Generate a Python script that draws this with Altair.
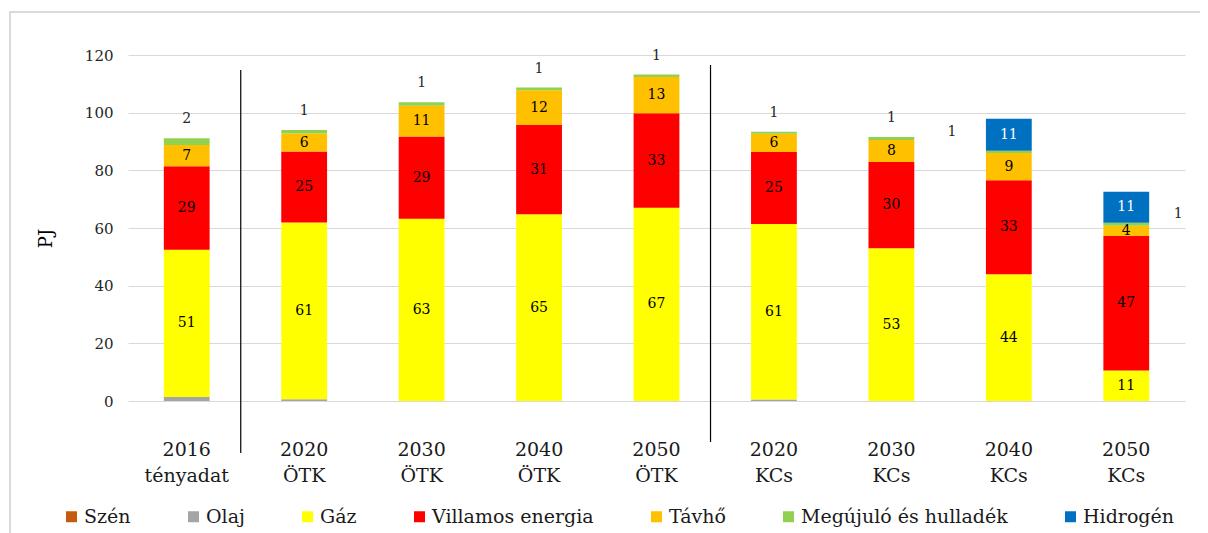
import altair as alt
import pandas as pd

categories = ["2016 tényadat", "2020 ÖTK", "2030 ÖTK", "2040 ÖTK", "2050 ÖTK",
              "2020 KCs", "2030 KCs", "2040 KCs", "2050 KCs"]
series = ["Szén", "Olaj", "Gáz", "Villamos energia", "Távhő",
          "Megújuló és hulladék", "Hidrogén"]
colors = ["#C55A11", "#A5A5A5", "#FFFF00", "#FF0000", "#FFC000", "#92D050", "#0070C0"]

szen = [0, 0, 0, 0, 0, 0, 0, 0, 0]
olaj = [1.4, 0.6, 0, 0, 0, 0.5, 0, 0, 0]
gaz = [51.1, 61.3, 63.2, 64.8, 67.0, 60.9, 53.0, 44.0, 10.6]
villamos = [28.9, 24.6, 28.5, 30.9, 32.8, 25.0, 29.9, 32.6, 46.6]
tavho = [7.4, 6.3, 10.7, 12.1, 12.6, 6.3, 7.6, 9.4, 3.6]
megujulo = [2.3, 1.2, 1.2, 0.9, 0.8, 0.7, 1.1, 0.8, 1.0]
hidrogen = [0, 0, 0, 0, 0, 0, 0, 11.1, 10.8]

values_by_series = [szen, olaj, gaz, villamos, tavho, megujulo, hidrogen]
rows = []
for si, (s, vals) in enumerate(zip(series, values_by_series)):
    for c, v in zip(categories, vals):
        rows.append({"category": c, "series": s, "order": si, "value": v})
df = pd.DataFrame(rows)

FONT = "DejaVu Serif"

xenc = alt.X(
    "category:N", sort=categories, title=None,
    scale=alt.Scale(paddingInner=0, paddingOuter=0),
    axis=alt.Axis(labelExpr="split(datum.label, ' ')", labelFont=FONT, labelFontSize=19,
                  labelLineHeight=26, labelPadding=39, labelAngle=0, labelBaseline="top",
                  labelColor="#1a1a1a", ticks=False, domain=False, grid=False),
)
yscale = alt.Scale(domain=[0, 120], nice=False, zero=True)


def yenc(field):
    return alt.Y(field, scale=yscale, title="PJ")


base = alt.Chart(df).transform_stack(
    stack="value", groupby=["category"],
    sort=[alt.SortField("order", order="ascending")], as_=["y0", "y1"]
).transform_calculate(mid="(datum.y0 + datum.y1) / 2")

bars = base.mark_bar(width={"band": 0.39}).encode(
    x=xenc,
    y=alt.Y("y0:Q", scale=yscale, title="PJ",
            axis=alt.Axis(values=[0, 20, 40, 60, 80, 100, 120], labelFont=FONT,
                          labelFontSize=15, labelColor="#262626", labelPadding=15,
                          grid=True, gridColor="#d9d9d9", gridWidth=1,
                          domain=False, ticks=False,
                          titleFont=FONT, titleFontSize=18, titleFontWeight="normal",
                          titleColor="#000000", titleX=-82, titleY=183,
                          titleAlign="center", titleBaseline="middle")),
    y2="y1:Q",
    color=alt.Color("series:N", sort=series,
                    scale=alt.Scale(domain=series, range=colors),
                    legend=alt.Legend(title=None, orient="none", direction="horizontal",
                                      legendX=-66, legendY=452, symbolType="square",
                                      symbolSize=121, symbolStrokeWidth=0,
                                      labelFont=FONT, labelFontSize=19, labelLimit=400,
                                      labelColor="#1a1a1a", labelOffset=3,
                                      columnPadding=53, padding=0)),
    order=alt.Order("order:Q"),
)

text_center = base.transform_filter(
    alt.FieldOneOfPredicate(field="series", oneOf=["Gáz", "Villamos energia", "Távhő"])
).mark_text(font=FONT, fontSize=14, color="#000000", baseline="middle").encode(
    x=xenc, y=yenc("mid:Q"),
    text=alt.Text("value:Q", format=".0f"),
)

text_h = base.transform_filter(
    "datum.series == 'Hidrogén' && datum.value > 0"
).mark_text(font=FONT, fontSize=14, color="#ffffff", baseline="middle").encode(
    x=xenc, y=yenc("mid:Q"),
    text=alt.Text("value:Q", format=".0f"),
)

meg = base.transform_filter("datum.series == 'Megújuló és hulladék'")
text_m = meg.transform_filter(
    "datum.category != '2040 KCs' && datum.category != '2050 KCs'"
).mark_text(font=FONT, fontSize=14, color="#262626", baseline="middle", dy=-19).encode(
    x=xenc, y=yenc("y1:Q"),
    text=alt.Text("value:Q", format=".0f"),
)
text_m2 = meg.transform_filter("datum.category == '2040 KCs'").mark_text(
    font=FONT, fontSize=14, color="#262626", baseline="middle", dy=-19, dx=-57
).encode(x=xenc, y=yenc("y1:Q"), text=alt.Text("value:Q", format=".0f"))
text_m3 = meg.transform_filter("datum.category == '2050 KCs'").mark_text(
    font=FONT, fontSize=14, color="#262626", baseline="middle", dy=-9, dx=52
).encode(x=xenc, y=yenc("y1:Q"), text=alt.Text("value:Q", format=".0f"))

sep_df = pd.DataFrame({"category": ["2016 tényadat", "2050 ÖTK"]})
rule1 = alt.Chart(sep_df).transform_filter("datum.category == '2016 tényadat'").mark_rule(
    color="#000000", strokeWidth=1.2
).encode(x=alt.X("category:N", sort=categories, bandPosition=0.96),
         y=alt.value(15), y2=alt.value(398))
rule2 = alt.Chart(sep_df).transform_filter("datum.category == '2050 ÖTK'").mark_rule(
    color="#000000", strokeWidth=1.2
).encode(x=alt.X("category:N", sort=categories, bandPosition=0.96),
         y=alt.value(10), y2=alt.value(387))

border = alt.Chart(pd.DataFrame({"a": [0]})).mark_rect(
    fillOpacity=0, stroke="#d9d9d9", strokeWidth=2
).encode(x=alt.value(-118), x2=alt.value(1100), y=alt.value(-43), y2=alt.value(560))

chart = alt.layer(
    border, bars, rule1, rule2, text_center, text_h, text_m, text_m2, text_m3
).properties(
    width=1057, height=346,
    autosize=alt.AutoSizeParams(type="none"),
    padding={"left": 120, "top": 47, "right": 15, "bottom": 150},
    background="#ffffff",
).configure_view(stroke=None)

chart.save("out.html", embed_options={"renderer": "svg", "actions": False})
